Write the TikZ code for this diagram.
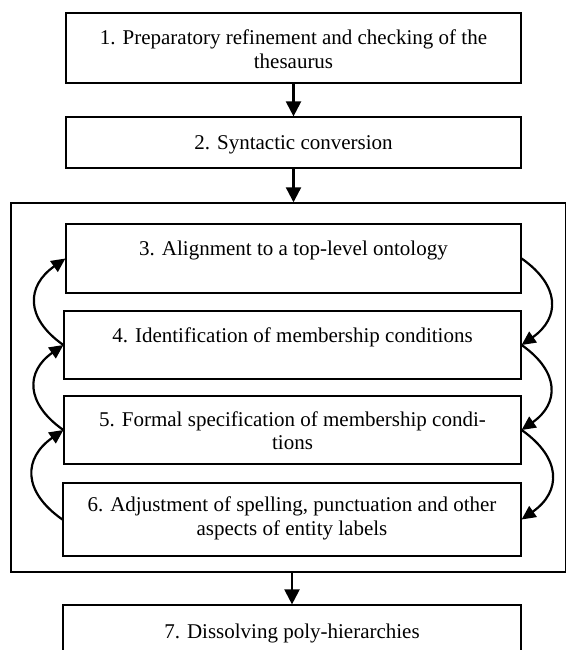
\documentclass[tikz,border=0pt]{standalone}
\usepackage{fontspec}
\setmainfont{Liberation Serif}
\usetikzlibrary{arrows.meta}
\begin{document}
\begin{tikzpicture}[x=1pt,y=1pt,
  stepbox/.style={draw, line width=1.2pt, inner sep=0pt},
  steptext/.style={anchor=base, align=center, inner sep=0pt,
    font=\fontsize{21}{23.5}\selectfont},
  frame/.style={draw, line width=1.4pt, inner sep=0pt},
  flow/.style={-{Triangle[length=15pt,width=15pt]}, line width=2.2pt},
  cycle/.style={-{Triangle[length=14pt,width=13pt]}, line width=2.2pt}]
\useasboundingbox (0,0) rectangle (567,-650);
\clip (0,0) rectangle (567,-650);

% outer frame around the iterative steps
\node[frame, minimum width=554.5pt, minimum height=369pt] (loop) at (288.25,-387.5) {};

% step boxes
\node[stepbox, minimum width=455pt, minimum height=70pt] (b1) at (293.5,-48) {};
\node[stepbox, minimum width=455pt, minimum height=51pt] (b2) at (293.5,-142.5) {};
\node[stepbox, minimum width=455pt, minimum height=69pt] (b3) at (293.5,-258.5) {};
\node[stepbox, minimum width=457pt, minimum height=68pt] (b4) at (292.5,-345) {};
\node[stepbox, minimum width=457pt, minimum height=68pt] (b5) at (292.5,-430) {};
\node[stepbox, minimum width=458pt, minimum height=73pt] (b6) at (292,-519.5) {};
\node[stepbox, minimum width=458pt, minimum height=70pt] (b7) at (292,-640) {};

% step labels (base anchor sits on the last line)
\node[steptext] (t1) at (293.5,-68.5) {1. Preparatory refinement and checking of the\\thesaurus};
\node[steptext] (t2) at (293.5,-149) {2. Syntactic conversion};
\node[steptext] (t3) at (293.5,-255) {3. Alignment to a top-level ontology};
\node[steptext] (t4) at (292.5,-342) {4. Identification of membership conditions};
\node[steptext] (t5) at (292.5,-449.5) {5. Formal specification of membership condi-\\tions};
\node[steptext] (t6) at (292,-535) {6. Adjustment of spelling, punctuation and other\\aspects of entity labels};
\node[steptext] (t7) at (292,-638) {7. Dissolving poly-hierarchies};

% main flow
\draw[flow] (b1.south) -- (b2.north);
\draw[flow] (b2.south) -- (b2.south |- loop.north);
\draw[flow] (b7.north |- loop.south) -- (b7.north);

% backward arcs on the left
\draw[cycle] (b4.west) to[out=145, in=215, looseness=1.4] (b3.west);
\draw[cycle] (b5.west) to[out=145, in=215, looseness=1.4] (b4.west);
\draw[cycle] (b6.west) to[out=145, in=215, looseness=1.4] (b5.west);

% forward arcs on the right
\draw[cycle] (b3.east) to[out=-35, in=35, looseness=1.4] (b4.east);
\draw[cycle] (b4.east) to[out=-35, in=35, looseness=1.4] (b5.east);
\draw[cycle] (b5.east) to[out=-35, in=35, looseness=1.4] (b6.east);
\end{tikzpicture}
\end{document}
